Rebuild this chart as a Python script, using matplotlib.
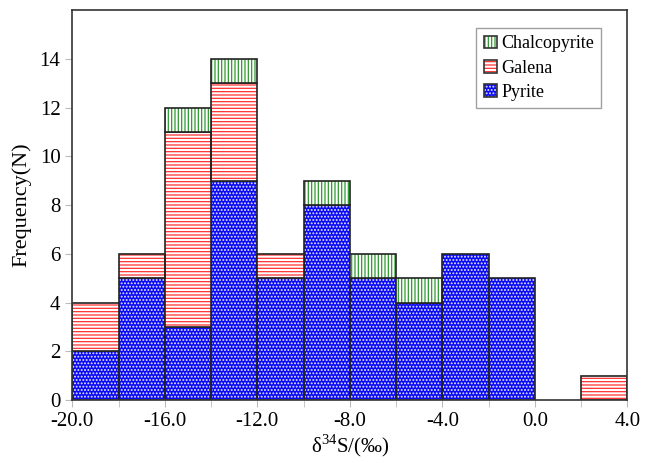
import matplotlib
matplotlib.use("Agg")
import matplotlib.pyplot as plt
from matplotlib.legend_handler import HandlerPatch
import numpy as np

plt.rcParams['font.family'] = ['Liberation Serif', 'DejaVu Serif']
plt.rcParams['mathtext.fontset'] = 'custom'
plt.rcParams['mathtext.rm'] = 'Liberation Serif'
plt.rcParams['hatch.linewidth'] = 0.9

# bin left edges (width 2 per mille)
bin_left = [-20, -18, -16, -14, -12, -10, -8, -6, -4, -2, 0, 2]
pyrite = [2, 5, 3, 9, 5, 8, 5, 4, 6, 5, 0, 0]
galena = [2, 1, 8, 4, 1, 0, 0, 0, 0, 0, 0, 1]
chalcopyrite = [0, 0, 1, 1, 0, 1, 1, 1, 0, 0, 0, 0]

x = np.array(bin_left) + 1
pyrite = np.array(pyrite)
galena = np.array(galena)
chalco = np.array(chalcopyrite)

fig, ax = plt.subplots(figsize=(6.46, 4.63), dpi=100)
fig.subplots_adjust(left=0.112, right=0.971, bottom=0.136, top=0.978)

series = [
    ("Pyrite", pyrite, np.zeros(len(x)), '#0a0af5', '#e8e8ff', '.....'),
    ("Galena", galena, pyrite, 'white', '#ff3030', '-----'),
    ("Chalcopyrite", chalco, pyrite + galena, 'white', '#2e9a2e', '|||||'),
]

handles = {}
for name, vals, bottom, fc, hc, hatch in series:
    mask = vals > 0
    ax.bar(x[mask], vals[mask], width=2, bottom=bottom[mask], color=fc,
           edgecolor=hc, hatch=hatch, linewidth=0)
    ax.bar(x[mask], vals[mask], width=2, bottom=bottom[mask], fill=False,
           edgecolor='#222222', linewidth=1.2)
    handles[name] = plt.Rectangle((0, 0), 1, 1, facecolor=fc, edgecolor=hc,
                                  hatch=hatch, linewidth=0)


class BoxHandler(HandlerPatch):
    def create_artists(self, legend, orig_handle, xdescent, ydescent, width,
                       height, fontsize, trans):
        size = height
        x0 = -xdescent + (width - size) / 2
        y0 = -ydescent
        p1 = plt.Rectangle((x0, y0), size, size, facecolor=orig_handle.get_facecolor(),
                           edgecolor=orig_handle.get_edgecolor(),
                           hatch=orig_handle.get_hatch(), linewidth=0, transform=trans)
        p2 = plt.Rectangle((x0, y0), size, size, fill=False, edgecolor='#333333',
                           linewidth=1.2, transform=trans)
        return [p1, p2]


order = ["Chalcopyrite", "Galena", "Pyrite"]
leg = ax.legend([handles[n] for n in order], order, loc='upper right',
                bbox_to_anchor=(0.953, 0.954), borderaxespad=0, fontsize=13,
                frameon=True, fancybox=False, edgecolor='#888888',
                handlelength=0.8, handletextpad=0.2, borderpad=0.4,
                labelspacing=0.4, handler_map={plt.Rectangle: BoxHandler()})
leg.get_frame().set_linewidth(1.0)

ax.set_xlim(-20, 4)
ax.set_ylim(0, 16)
ax.set_xticks(np.arange(-20, 5, 4))
ax.set_xticklabels([f"{v:.1f}" for v in np.arange(-20, 5, 4)])
ax.set_xticks(np.arange(-20, 5, 2), minor=True)
ax.set_yticks(np.arange(0, 15, 2))
ax.tick_params(axis='both', which='both', direction='out', color='#bbbbbb',
               labelsize=15)
ax.tick_params(axis='both', which='major', length=5)
ax.tick_params(axis='x', which='minor', length=5)

for s in ax.spines.values():
    s.set_linewidth(1.2)
    s.set_color('#333333')

ax.set_xlabel(r"δ$^{34}$S/(‰)", fontsize=15, labelpad=1)
ax.set_ylabel("Frequency(N)", fontsize=16, labelpad=6)

fig.savefig("out.png", dpi=100)
